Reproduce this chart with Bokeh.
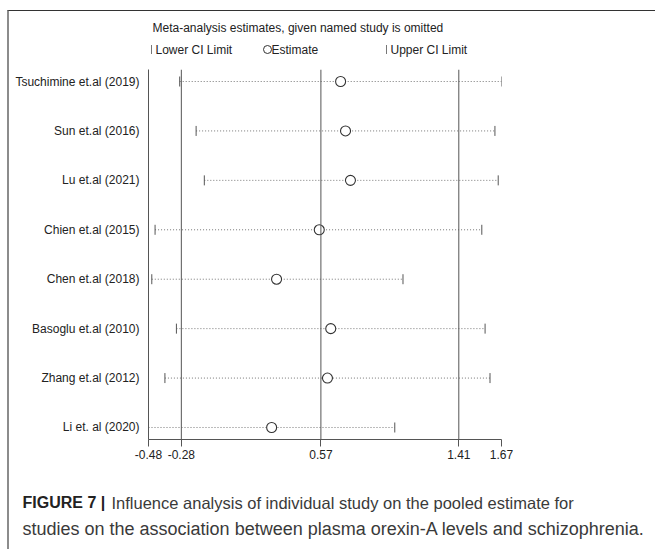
import math
from bokeh.plotting import figure
from bokeh.layouts import column
from bokeh.models import Range1d, FixedTicker, Span
from bokeh.core.properties import value
from bokeh.embed import file_html
from bokeh.resources import INLINE

studies = ["Tsuchimine et.al (2019)", "Sun et.al (2016)", "Lu et.al (2021)",
           "Chien et.al (2015)", "Chen et.al (2018)", "Basoglu et.al (2010)",
           "Zhang et.al (2012)", "Li et. al (2020)"]
estimate = [0.69, 0.72, 0.75, 0.56, 0.30, 0.63, 0.61, 0.27]
lower = [-0.29, -0.19, -0.14, -0.44, -0.46, -0.31, -0.38, -0.48]
upper = [1.67, 1.63, 1.65, 1.55, 1.07, 1.57, 1.60, 1.02]
ref_lines = [-0.28, 0.57, 1.41]
x_ticks = [-0.48, -0.28, 0.57, 1.41, 1.67]
x_tick_labels = ["-0.48", "-0.28", "0.57", "1.41", "1.67"]

header_title = "Meta-analysis estimates, given named study is omitted"
legend_labels = ["Lower CI Limit", "Estimate", "Upper CI Limit"]
caption_bold = "FIGURE 7 |"
caption_line1 = "Influence analysis of individual study on the pooled estimate for"
caption_line2 = "studies on the association between plasma orexin-A levels and schizophrenia."

FONT = "Liberation Sans, Arial, sans-serif"
W = 646          # inner width (page 655 minus left margin and border)
X0 = 9           # page x of the inner left edge
Y0 = 11          # page y of the inner top edge
HEAD_B = 69      # page y where the plot frame starts
MAIN_B = 480     # page y where the caption block starts
PAGE_H = 549


def blank(height, y_top, y_bot):
    f = figure(width=W, height=height, output_backend="svg", toolbar_location=None,
               x_range=Range1d(X0, X0 + W), y_range=Range1d(y_bot, y_top),
               x_axis_type=None, y_axis_type=None, min_border=0, title=None)
    f.outline_line_color = None
    f.xgrid.visible = False
    f.ygrid.visible = False
    f.frame_align = False
    return f


# ---------- header (title + legend) ----------
head = blank(HEAD_B - Y0, Y0, HEAD_B)
head.text(x=[152], y=[27], text=[header_title], text_font=value(FONT),
          text_font_size=value("12px"), text_color="#222222",
          text_baseline="middle", text_align="left")
head.scatter(x=[151, 386], y=[49, 49], marker="dash", angle=math.pi / 2, size=9,
             line_color="#777777", line_width=1)
head.scatter(x=[267], y=[49], marker="circle", size=8, line_color="#333333",
             fill_color="white", line_width=1)
head.text(x=[155, 271, 390], y=[49, 49, 49], text=legend_labels, text_font=value(FONT),
          text_font_size=value("12px"), text_color="#222222",
          text_baseline="middle", text_align="left")

# ---------- main plot ----------
n = len(studies)
ypos = list(range(n, 0, -1))

p = figure(width=W, height=MAIN_B - HEAD_B, output_backend="svg", toolbar_location=None,
           x_range=Range1d(-0.48, 1.67), y_range=Range1d(0.757, n + 0.243),
           min_border_left=148 - X0, min_border_right=655 - 501, min_border_top=0,
           min_border_bottom=MAIN_B - 439, title=None)
p.outline_line_color = None
p.xgrid.visible = False
p.ygrid.visible = False
p.frame_align = False

p.xaxis.ticker = FixedTicker(ticks=x_ticks)
p.xaxis.major_label_overrides = {t: s for t, s in zip(x_ticks, x_tick_labels)}
p.xaxis.major_tick_out = 7
p.xaxis.major_tick_in = 0
p.xaxis.minor_tick_line_color = None
p.xaxis.axis_line_color = "#555555"
p.xaxis.major_tick_line_color = "#555555"
p.xaxis.major_label_text_font = FONT
p.xaxis.major_label_text_font_size = "12px"
p.xaxis.major_label_text_color = "#222222"
p.xaxis.major_label_standoff = 3

p.yaxis.ticker = FixedTicker(ticks=ypos)
p.yaxis.major_label_overrides = {y: s for y, s in zip(ypos, studies)}
p.yaxis.major_tick_line_color = None
p.yaxis.minor_tick_line_color = None
p.yaxis.axis_line_color = "#555555"
p.yaxis.major_label_text_font = FONT
p.yaxis.major_label_text_font_size = "12px"
p.yaxis.major_label_text_color = "#222222"
p.yaxis.major_label_standoff = 3

for v in ref_lines:
    p.add_layout(Span(location=v, dimension="height", line_color="#555555", line_width=1))

p.segment(x0=lower, y0=ypos, x1=upper, y1=ypos, line_color="#777777",
          line_width=1, line_dash="1 2")
p.scatter(x=lower, y=ypos, marker="dash", angle=math.pi / 2, size=10,
          line_color="#555555", line_width=1)
p.scatter(x=upper, y=ypos, marker="dash", angle=math.pi / 2, size=10,
          line_color="#555555", line_width=1)
p.scatter(x=estimate, y=ypos, marker="circle", size=10, line_color="#333333",
          fill_color="white", line_width=1.1)

# ---------- caption ----------
cap = blank(PAGE_H - MAIN_B, MAIN_B, PAGE_H)
cap.text(x=[22], y=[502], text=[caption_bold], text_font=value(FONT),
         text_font_size=value("16px"), text_font_style="bold", text_color="#222222",
         text_baseline="middle", text_align="left")
cap.text(x=[111], y=[502], text=[caption_line1],
         text_font=value(FONT), text_font_size=value("16.5px"), text_color="#3a3a3a",
         text_baseline="middle", text_align="left")
cap.text(x=[22], y=[528], text=[caption_line2],
         text_font=value(FONT), text_font_size=value("18px"), text_color="#3a3a3a",
         text_baseline="middle", text_align="left")

layout = column(head, p, cap, spacing=0,
                styles={"border-left": "2px solid #8c8c8c", "border-top": "1px solid #333333",
                        "margin-left": "7px", "margin-top": "10px"})

open("out.html", "w").write(file_html(layout, INLINE))
